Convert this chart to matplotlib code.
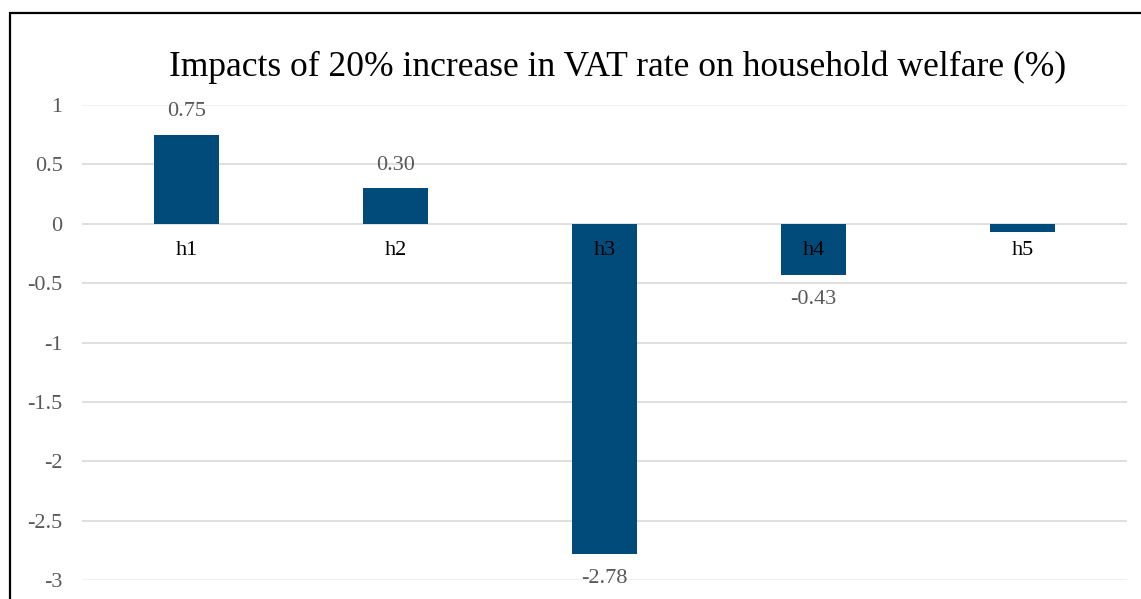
import matplotlib.pyplot as plt
from matplotlib.patches import Rectangle

# Data
categories = ["h1", "h2", "h3", "h4", "h5"]
values = [0.75, 0.30, -2.78, -0.43, -0.07]
show_label = [True, True, True, True, False]
y_ticks = [1, 0.5, 0, -0.5, -1, -1.5, -2, -2.5, -3]

BAR_COLOR = "#004B7A"
GRID_COLOR = "#d9d9d9"
LABEL_GRAY = "#595959"

plt.rcParams["font.family"] = ["Liberation Serif", "DejaVu Serif"]

fig = plt.figure(figsize=(11.41, 5.99), dpi=100, facecolor="white")
ax = fig.add_axes([82 / 1141, 1 - 580 / 599, (1127 - 82) / 1141, (580 - 105) / 599])

x = list(range(len(categories)))
ax.bar(x, values, width=0.315, color=BAR_COLOR, zorder=2)

ax.set_xlim(-0.5, len(categories) - 0.5)
ax.set_ylim(-3, 1)
ax.set_yticks(y_ticks)
ax.set_yticklabels([f"{t:g}" for t in y_ticks], fontsize=16, color=LABEL_GRAY)
ax.tick_params(axis="y", length=0, pad=14)
ax.set_xticks([])
for s in ax.spines.values():
    s.set_visible(False)

# horizontal gridlines (outer ones are fainter in the reference)
for t in y_ticks:
    c = "#eeeeee" if t in (1, -3) else GRID_COLOR
    ax.axhline(t, color=c, linewidth=1.2, zorder=1)

# category labels sit just under the zero line
for xi, cat in zip(x, categories):
    ax.annotate(cat, (xi, 0), xytext=(0, -27), textcoords="offset pixels",
                ha="center", va="center", fontsize=16, color="black", zorder=3)

# data labels
for xi, v, show in zip(x, values, show_label):
    if not show:
        continue
    off = 23 if v >= 0 else -25
    ax.annotate(f"{v:.2f}", (xi, v), xytext=(0, off), textcoords="offset pixels",
                ha="center", va="center", fontsize=16, color=LABEL_GRAY, zorder=3)

fig.text(618 / 1141, 1 - 67 / 599,
         "Impacts of 20% increase in VAT rate on household welfare (%)",
         ha="center", va="center", fontsize=25.6, color="black")

# chart-area border (cropped at right and bottom in the reference)
border = Rectangle((9.5 / 1141, -0.2), 1.2, 1.2 - 13.5 / 599,
                   transform=fig.transFigure, fill=False,
                   edgecolor="black", linewidth=1.6)
fig.patches.append(border)

fig.savefig("out.png", dpi=100, facecolor="white")
